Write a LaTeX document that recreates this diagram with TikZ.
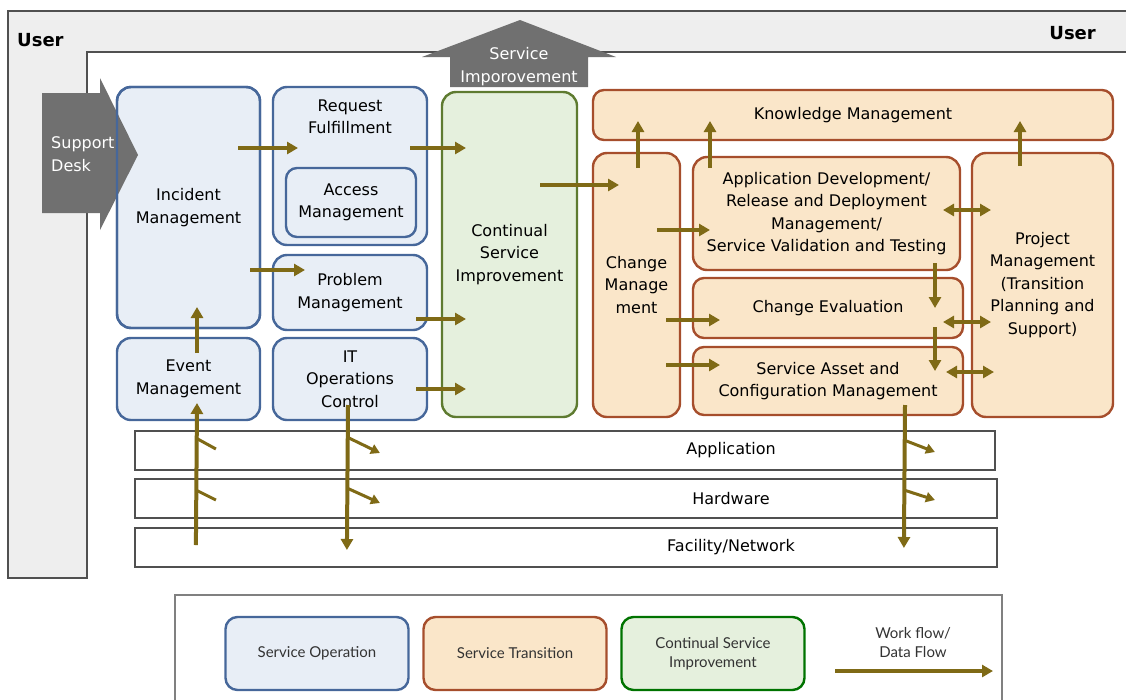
\documentclass[tikz,border=0pt]{standalone}
\usepackage{fontspec}
\setmainfont{DejaVu Sans}
\newfontfamily\legendfont{Lato}
\usetikzlibrary{arrows.meta}

\definecolor{sofill}{HTML}{E8EEF6}
\definecolor{soline}{HTML}{46679A}
\definecolor{stfill}{HTML}{FAE6C9}
\definecolor{stline}{HTML}{A64E2C}
\definecolor{csifill}{HTML}{E5F0DD}
\definecolor{csiline}{HTML}{5E7B30}
\definecolor{flowcol}{HTML}{7F6A16}
\definecolor{shadegray}{HTML}{707070}
\definecolor{framefill}{HTML}{EEEEEE}
\definecolor{frameline}{HTML}{505050}

\tikzset{
  box/.style={align=center, line width=2.4pt, rounded corners=14pt, inner sep=2pt, outer sep=0pt,
    font=\fontsize{16}{22.5}\selectfont},
  sobox/.style={box, draw=soline, fill=sofill},
  stbox/.style={box, draw=stline, fill=stfill},
  csibox/.style={box, draw=csiline, fill=csifill},
  layerbar/.style={draw=frameline, fill=white, line width=2.2pt},
  bartext/.style={font=\fontsize{16}{20}\selectfont, inner sep=1pt},
  flow/.style={draw=flowcol, line width=4pt, ->},
  dflow/.style={draw=flowcol, line width=4pt, <->},
  branch/.style={draw=flowcol, line width=3pt, -{Triangle[length=9pt,width=10pt]}},
  tickline/.style={draw=flowcol, line width=3pt},
  grayarrow/.style={fill=shadegray},
  graytext/.style={text=white, align=center, inner sep=1pt, font=\fontsize{16}{22.5}\selectfont},
  userlabel/.style={font=\fontsize{18}{20}\selectfont\bfseries, inner sep=1pt},
  legbox/.style={line width=2.4pt, rounded corners=12pt, align=center, text=black!80,
    minimum width=183pt, minimum height=73pt, font=\legendfont\fontsize{15}{19}\selectfont},
  legtext/.style={align=center, text=black!80, font=\legendfont\fontsize{15}{19}\selectfont}
}

\begin{document}
\begin{tikzpicture}[x=1pt, y=-1pt, >={Triangle[length=11pt,width=12pt]}]
\useasboundingbox (0,0) rectangle (1126,699);

\fill[framefill] (8,11) -- (1130,11) -- (1130,52) -- (87,52) -- (87,578) -- (8,578) -- cycle;
\draw[frameline, line width=1.5pt] (1130,11) -- (8,11) -- (8,578) -- (87,578) -- (87,52) -- (1130,52);
\node[userlabel, anchor=west] (user1) at (16,40) {User};
\node[userlabel, anchor=east] (user2) at (1097,33) {User};

\fill[grayarrow] (422,57) -- (520,20) -- (616,57) -- (588,57) -- (588,87) -- (450,87) -- (450,57) -- cycle;
\node[graytext] (simp) at (519,66.5) {Service\\Imporovement};

\node[sobox, minimum width=143pt, minimum height=241pt] (inc) at (188.5,207.5) {Incident\\Management};
\node[sobox, minimum width=143pt, minimum height=82pt] (evt) at (188.5,379) {Event\\Management};
\node[sobox, minimum width=154pt, minimum height=158pt,
  label={[align=center, anchor=north, yshift=-9pt, font=\fontsize{16}{22.5}\selectfont]north:Request\\Fulfillment}] (req) at (350,166) {};
\node[sobox, rounded corners=11pt, minimum width=130pt, minimum height=69pt] (acc) at (351,202.5) {Access\\Management};
\node[sobox, minimum width=154pt, minimum height=75pt] (prob) at (350,292.5) {Problem\\Management};
\node[sobox, minimum width=154pt, minimum height=82pt] (itops) at (350,379) {IT\\Operations\\Control};

\fill[grayarrow] (42,93) -- (100,93) -- (100,78) -- (138,155) -- (100,230) -- (100,213) -- (42,213) -- cycle;
\node[graytext, align=left, anchor=west] (sdesk) at (50,154) {Support\\Desk};
\draw[soline, line width=2.4pt, rounded corners=14pt] (inc.south west) rectangle (inc.north east);

\node[csibox, minimum width=135pt, minimum height=325pt] (csi) at (509.5,254.5) {Continual\\Service\\Improvement};

\node[stbox, rounded corners=11pt, minimum width=520pt, minimum height=50pt] (know) at (853,115) {Knowledge Management};
\node[stbox, minimum width=87pt, minimum height=264pt] (chg) at (636.5,285) {Change\\Manage\\ment};
\node[stbox, minimum width=267pt, minimum height=113pt] (adev) at (826.5,213.5)
  {Application Development/\\Release and Deployment\\Management/\\Service Validation and Testing};
\node[stbox, rounded corners=11pt, minimum width=270pt, minimum height=60pt] (ceval) at (828,308) {Change Evaluation};
\node[stbox, rounded corners=11pt, minimum width=270pt, minimum height=68pt] (sacm) at (828,381) {Service Asset and\\Configuration Management};
\node[stbox, minimum width=141pt, minimum height=264pt] (proj) at (1042.5,285)
  {Project\\Management\\(Transition\\Planning and\\Support)};

\node[layerbar, minimum width=860pt, minimum height=39pt, label={[bartext, xshift=166pt]center:Application}] (app) at (565,450.5) {};
\node[layerbar, minimum width=862pt, minimum height=39pt, label={[bartext, xshift=165pt]center:Hardware}] (hw) at (566,498.5) {};
\node[layerbar, minimum width=862pt, minimum height=39pt, label={[bartext, xshift=165pt]center:Facility/Network}] (fac) at (566,547.5) {};

\draw[flow] ([shift={(-22,-59.5)}]inc.east) -- ([shift={(25,-18)}]req.west);
\draw[flow] ([shift={(-10,62.5)}]inc.east) -- ([shift={(32,-22.5)}]prob.west);
\draw[flow] ([shift={(8.5,15)}]evt.north) -- ([shift={(8.5,-21)}]inc.south);
\draw[flow] ([shift={(62,-2.5)}]fac.west) -- ([shift={(8.5,-17)}]evt.south);
\draw[tickline] ([shift={(62,-12.5)}]app.west) -- ([shift={(82,-1.5)}]app.west);
\draw[tickline] ([shift={(62,-8.5)}]hw.west) -- ([shift={(82,1.5)}]hw.west);
\draw[flow] ([shift={(-2,-15)}]itops.south) -- ([shift={(213,2.5)}]fac.west);
\draw[branch] ([shift={(213,-13.5)}]app.west) -- ([shift={(246,2.5)}]app.west);
\draw[branch] ([shift={(213,-10.5)}]hw.west) -- ([shift={(246,4.5)}]hw.west);
\draw[flow] ([shift={(77,-10)}]sacm.south) -- ([shift={(770,0.5)}]fac.west);
\draw[branch] ([shift={(770,-10.5)}]app.west) -- ([shift={(801,1.5)}]app.west);
\draw[branch] ([shift={(770,-8.5)}]hw.west) -- ([shift={(801,1.5)}]hw.west);

\draw[flow] ([shift={(-17,-18)}]req.east) -- ([shift={(24,-106.5)}]csi.west);
\draw[flow] ([shift={(-11,26.5)}]prob.east) -- ([shift={(24,64.5)}]csi.west);
\draw[flow] ([shift={(-11,10)}]itops.east) -- ([shift={(24,134.5)}]csi.west);
\draw[flow] ([shift={(-37,-69.5)}]csi.east) -- ([shift={(26,-100)}]chg.west);

\draw[flow] ([shift={(1.5,15)}]chg.north) -- ([shift={(-215,-19)}]know.south);
\draw[flow] ([shift={(-116.5,11)}]adev.north) -- ([shift={(-143,-19)}]know.south);
\draw[flow] ([shift={(-22.5,13)}]proj.north) -- ([shift={(167,-19)}]know.south);
\draw[flow] ([shift={(-23,-55)}]chg.east) -- ([shift={(17,16.5)}]adev.west);
\draw[flow] ([shift={(-14,35)}]chg.east) -- ([shift={(27,12)}]ceval.west);
\draw[flow] ([shift={(-14,80)}]chg.east) -- ([shift={(27,-16)}]sacm.west);
\draw[flow] ([shift={(108.5,-7)}]adev.south) -- ([shift={(107,30)}]ceval.north);
\draw[flow] ([shift={(107,-11)}]ceval.south) -- ([shift={(107,24)}]sacm.north);
\draw[dflow] ([shift={(-17,-3.5)}]adev.east) -- ([shift={(19,-75)}]proj.west);
\draw[dflow] ([shift={(-20,14)}]ceval.east) -- ([shift={(19,37)}]proj.west);
\draw[dflow] ([shift={(-17,-9)}]sacm.east) -- ([shift={(22,87)}]proj.west);

\node[draw=black!50, line width=1.5pt, minimum width=827pt, minimum height=110pt] (leg) at (588.5,650) {};
\node[legbox, draw=soline, fill=sofill] (lso) at (317,653.5) {Service Operation};
\node[legbox, draw=stline, fill=stfill] (lst) at (515,653.5) {Service Transition};
\node[legbox, draw=green!45!black, fill=csifill] (lcsi) at (713,653.5) {Continual Service\\Improvement};
\node[legtext] (lflow) at (913,642.5) {Work flow/\\Data Flow};
\draw[flow] ([shift={(-78,28.5)}]lflow.center) -- ([shift={(80,28.5)}]lflow.center);
\end{tikzpicture}
\end{document}
